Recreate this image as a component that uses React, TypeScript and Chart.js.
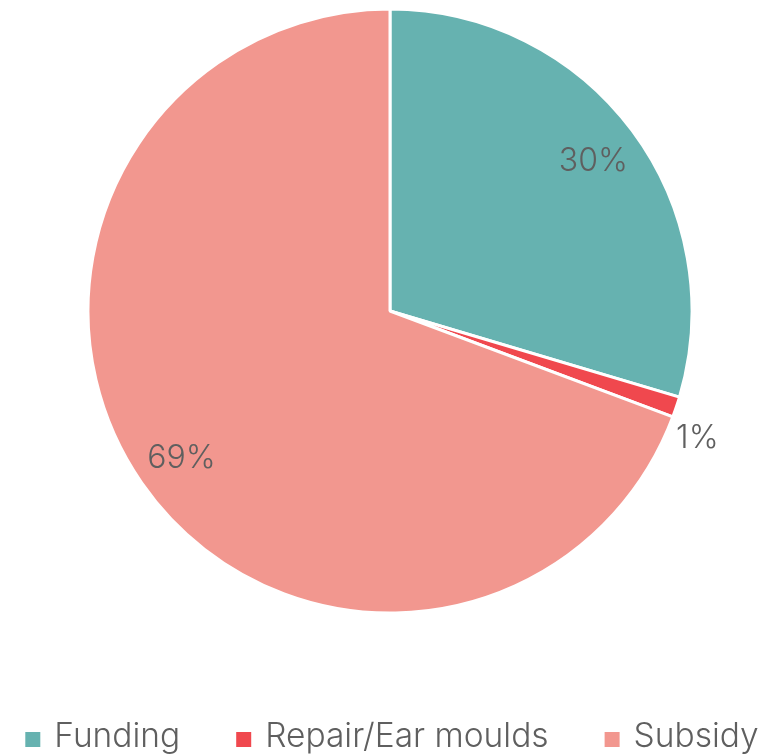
import React, { useEffect, useRef } from "react";
import { Chart, registerables } from "chart.js";

Chart.register(...registerables);

const categories = ["Funding", "Repair/Ear moulds", "Subsidy"];
const values = [29.6, 1.1, 69.3];
const colors = ["#66b2b0", "#f0484e", "#f2978f"];

const FONT = "Inter, 'Open Sans', sans-serif";
const TEXT_COLOR = "#5f5f5f";

const pctLabels = {
  id: "pctLabels",
  afterDatasetsDraw(chart: any) {
    const ctx = chart.ctx;
    const meta = chart.getDatasetMeta(0);
    const data = chart.data.datasets[0].data as number[];
    const total = data.reduce((a, b) => a + b, 0);
    ctx.save();
    ctx.font = `300 32px ${FONT}`;
    ctx.fillStyle = TEXT_COLOR;
    ctx.textAlign = "center";
    ctx.textBaseline = "alphabetic";
    const cap = ctx.measureText("0").actualBoundingBoxAscent;
    meta.data.forEach((arc: any, i: number) => {
      const { x, y, startAngle, endAngle, outerRadius } = arc.getProps(
        ["x", "y", "startAngle", "endAngle", "outerRadius"],
        true
      );
      const pct = (data[i] / total) * 100;
      const mid = (startAngle + endAngle) / 2;
      let px: number, py: number;
      if (pct < 3) {
        px = x + Math.cos(mid) * outerRadius + 21;
        py = y + Math.sin(mid) * outerRadius + 29;
      } else {
        const r = outerRadius * 0.84;
        px = x + Math.cos(mid) * r;
        py = y + Math.sin(mid) * r;
      }
      ctx.fillText(Math.round(pct) + "%", px, py + cap / 2);
    });
    ctx.restore();
  },
};

const customLegend = {
  id: "customLegend",
  afterDraw(chart: any) {
    const ctx = chart.ctx;
    const labels = chart.data.labels as string[];
    const bg = chart.data.datasets[0].backgroundColor as string[];
    const box = 15;
    const boxGap = 14;
    const itemGap = 56;
    const baseline = 739;
    ctx.save();
    ctx.font = `300 33.5px ${FONT}`;
    ctx.textBaseline = "alphabetic";
    ctx.textAlign = "left";
    const widths = labels.map((l) => ctx.measureText(l).width);
    const total =
      widths.reduce((a, w) => a + box + boxGap + w, 0) + itemGap * (labels.length - 1);
    let x = 384 - total / 2;
    labels.forEach((l, i) => {
      ctx.fillStyle = bg[i];
      ctx.fillRect(x, baseline - box, box, box);
      x += box + boxGap;
      ctx.fillStyle = TEXT_COLOR;
      ctx.fillText(l, x, baseline);
      x += widths[i] + itemGap;
    });
    ctx.restore();
  },
};

export default function App() {
  const ref = useRef<HTMLCanvasElement>(null);
  useEffect(() => {
    if (!ref.current) return;
    const chart = new Chart(ref.current, {
      type: "pie",
      data: {
        labels: categories,
        datasets: [
          {
            data: values,
            backgroundColor: colors,
            borderColor: "#ffffff",
            borderWidth: 3,
            hoverOffset: 0,
            radius: 302,
          } as any,
        ],
      },
      options: {
        responsive: true,
        maintainAspectRatio: false,
        animation: false,
        layout: { padding: { left: 3, bottom: 140 } },
        plugins: {
          tooltip: { enabled: false },
          legend: { display: false },
        },
      },
      plugins: [pctLabels, customLegend],
    });
    return () => chart.destroy();
  }, []);
  return (
    <div style={{ position: "relative", width: "100%", height: 746 }}>
      <canvas ref={ref} />
    </div>
  );
}
